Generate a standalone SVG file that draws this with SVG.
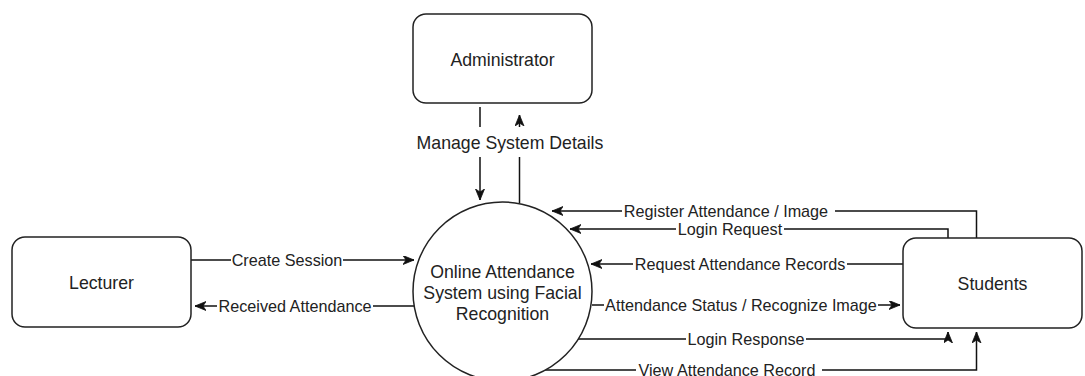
<svg xmlns="http://www.w3.org/2000/svg" width="1085" height="376" viewBox="0 0 1085 376">
<style>
.node{fill:#ffffff;stroke:#222222;stroke-width:1.5}
.nt{font-family:"Liberation Sans",Arial,sans-serif;font-size:17.7px;fill:#222222;text-anchor:middle}
.el{font-family:"Liberation Sans",Arial,sans-serif;font-size:16.2px;fill:#222222;text-anchor:middle}
.edge{fill:none;stroke:#111111;stroke-width:1.5}
.bg{fill:#ffffff}
</style>
<defs>
<marker id="arr" markerUnits="userSpaceOnUse" markerWidth="14" markerHeight="12" refX="11" refY="4.5" orient="auto" viewBox="0 0 14 12">
<path d="M0,0 L11,4.5 L0,9 L3,4.5 Z" fill="#111111" stroke="#111111" stroke-width="0.8"/>
</marker>
</defs>
<g id="connectors">
<!-- Administrator to system -->
<path class="edge" d="M480,107 L480,200" marker-end="url(#arr)"/>
<!-- system to Administrator -->
<path class="edge" d="M519.5,203 L519.5,115" marker-end="url(#arr)"/>
<!-- Lecturer -> system -->
<path class="edge" d="M191,260 L414,260" marker-end="url(#arr)"/>
<!-- system -> Lecturer -->
<path class="edge" d="M414,306 L195,306" marker-end="url(#arr)"/>
<!-- Students -> system : Register -->
<path class="edge" d="M976.5,238 L976.5,211 L552,211" marker-end="url(#arr)"/>
<!-- Login Request -->
<path class="edge" d="M948,238 L948,229 L570,229" marker-end="url(#arr)"/>
<!-- Request Attendance Records -->
<path class="edge" d="M903,264 L591,264" marker-end="url(#arr)"/>
<!-- Attendance Status -->
<path class="edge" d="M592,305 L900,305" marker-end="url(#arr)"/>
<!-- Login Response -->
<path class="edge" d="M578,339 L948,339 L948,332" marker-end="url(#arr)"/>
<!-- View Attendance Record -->
<path class="edge" d="M545,370 L976.5,370 L976.5,332" marker-end="url(#arr)"/>
<!-- label backgrounds -->
<rect class="bg" x="416" y="127" width="188" height="30"/>
<rect class="bg" x="231" y="251" width="112" height="18"/>
<rect class="bg" x="217" y="297" width="156" height="18"/>
<rect class="bg" x="622" y="202" width="213" height="18"/>
<rect class="bg" x="676" y="220" width="108" height="18"/>
<rect class="bg" x="633" y="255" width="214" height="18"/>
<rect class="bg" x="604" y="296" width="274" height="18"/>
<rect class="bg" x="686" y="330" width="120" height="18"/>
<rect class="bg" x="636" y="361" width="186" height="15"/>
<!-- labels -->
<text class="nt" x="510" y="149">Manage System Details</text>
<text class="el" x="287" y="265.8">Create Session</text>
<text class="el" x="295" y="311.8">Received Attendance</text>
<text class="el" x="726" y="216.8">Register Attendance / Image</text>
<text class="el" x="730" y="234.8">Login Request</text>
<text class="el" x="740" y="269.8">Request Attendance Records</text>
<text class="el" x="741" y="310.8">Attendance Status / Recognize Image</text>
<text class="el" x="746" y="344.8">Login Response</text>
<text class="el" x="727" y="375.8">View Attendance Record</text>
</g>
<g id="administrator">
<rect class="node" x="413" y="14" width="179" height="89" rx="13" ry="13"/>
<text class="nt" x="502.5" y="65.5">Administrator</text>
</g>
<g id="lecturer">
<rect class="node" x="12" y="237" width="179" height="90" rx="13" ry="13"/>
<text class="nt" x="101.5" y="288.5">Lecturer</text>
</g>
<g id="students">
<rect class="node" x="903" y="238" width="179" height="90" rx="13" ry="13"/>
<text class="nt" x="992.5" y="289.5">Students</text>
</g>
<g id="system">
<circle class="node" cx="502.5" cy="291.5" r="89.5"/>
<text class="nt" x="502.5" y="278">Online Attendance</text>
<text class="nt" x="502.5" y="299">System using Facial</text>
<text class="nt" x="502.5" y="320">Recognition</text>
</g>
</svg>
